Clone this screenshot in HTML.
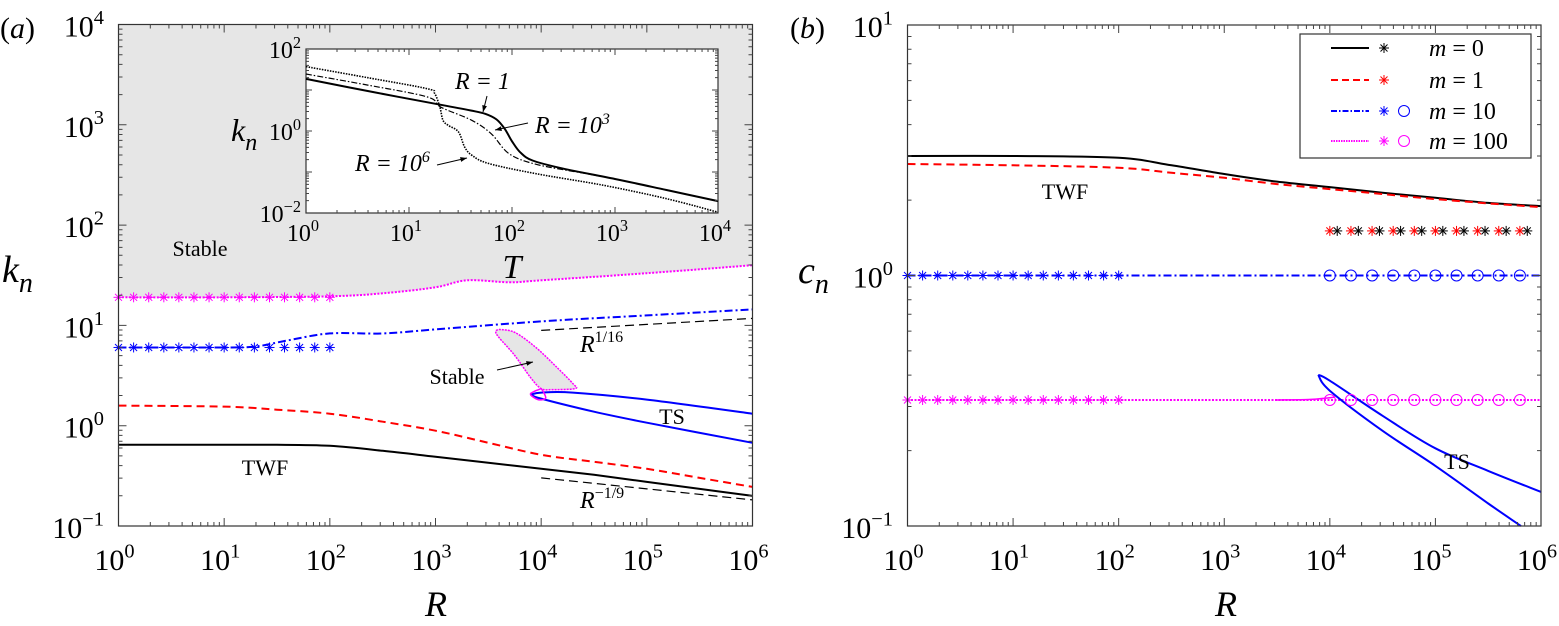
<!DOCTYPE html>
<html><head><meta charset="utf-8"><style>
html,body{margin:0;padding:0;background:#fff;}
svg{display:block;font-family:"Liberation Serif",serif;}
</style></head><body>
<svg id="fig" width="1559" height="626" viewBox="0 0 1559 626" xmlns="http://www.w3.org/2000/svg"></svg>
<script>
// ---------- Panel (a): k_n vs R (log10 values) ----------
const aBlackR = [0,1,1.5,2,2.5,3,3.5,4,4.5,5,5.5,6];
const aBlackK = [-0.19,-0.19,-0.19,-0.2,-0.25,-0.31,-0.37,-0.43,-0.49,-0.56,-0.63,-0.70];
const aRedR = [0,1,1.5,2,2.5,3,3.5,4,4.5,5,5.5,6];
const aRedK = [0.2,0.19,0.16,0.12,0.04,-0.05,-0.17,-0.29,-0.36,-0.43,-0.52,-0.61];
const aBlueR = [0,1,1.3,1.6,2,2.5,3,4,5,6];
const aBlueK = [0.78,0.78,0.79,0.85,0.92,0.92,0.96,1.04,1.10,1.16];
const aMagR = [0,1,2,2.5,3,3.3,3.7,4,5,6];
const aMagK = [1.28,1.28,1.29,1.32,1.38,1.45,1.43,1.45,1.52,1.60];
const aTSUpR = [3.9,4.0,4.3,5,6];
const aTSUpK = [0.31,0.33,0.33,0.26,0.12];
const aTSLoR = [3.9,4.0,4.5,5,6];
const aTSLoK = [0.31,0.27,0.14,0.03,-0.17];
const aLoopR = [3.6,3.75,3.95,4.15,4.3,4.32,4.1,4.0,3.9,3.75,3.6,3.57,3.6];
const aLoopK = [0.96,0.93,0.78,0.58,0.42,0.37,0.36,0.37,0.48,0.7,0.88,0.94,0.96];
const aSmallLoopR = [4.0,3.93,3.9,3.97,4.04,4.03,4.0];
const aSmallLoopK = [0.37,0.34,0.31,0.26,0.27,0.32,0.37];
const aStarR = [0,0.143,0.286,0.429,0.571,0.714,0.857,1,1.143,1.286,1.429,1.571,1.714,1.857,2];
const aStarMagK = 1.28;
const aStarBlueK = 0.78;
const aRef1R = [4,6];
const aRef1K = [0.95,1.07];
const aRef2R = [4,6];
const aRef2K = [-0.52,-0.74];
const aXTicks = ["0","1","2","3","4","5","6"];
const aYTicks = ["-1","0","1","2","3","4"];
// ---------- Inset: k_n vs T ----------
const iSolidT = [0,0.65,1.31,1.6,1.74,1.85,1.93,2.0,2.08,2.2,2.5,3,3.5,4];
const iSolidK = [1.27,0.95,0.64,0.50,0.42,0.28,0.05,-0.25,-0.52,-0.72,-0.92,-1.17,-1.44,-1.71];
const iDashT = [0,0.6,1.18,1.31,1.61,1.80,1.97,2.23,2.72,3,3.5,4];
const iDashK = [1.39,1.12,0.83,0.58,0.26,-0.07,-0.55,-0.81,-1.04,-1.17,-1.44,-1.71];
const iDotT = [0,0.6,1.18,1.25,1.30,1.33,1.38,1.48,1.54,1.61,1.77,2.23,2.88,3.5,4];
const iDotK = [1.57,1.3,1.03,0.91,0.58,0.26,0.14,-0.02,-0.39,-0.59,-0.79,-1.04,-1.32,-1.65,-1.98];
const iXTicks = ["0","1","2","3","4"];
const iYTicks = ["-2","0","2"];
// ---------- Panel (b): c_n vs R ----------
const bBlackR = [0,1,2,2.5,3,3.5,4,4.5,5,5.5,6];
const bBlackC = [0.477,0.477,0.47,0.44,0.405,0.375,0.353,0.33,0.31,0.29,0.277];
const bRedR = [0,1,2,2.5,3,3.5,4,4.5,5,5.5,6];
const bRedC = [0.445,0.44,0.43,0.41,0.39,0.365,0.345,0.325,0.305,0.288,0.273];
const bBlueC = 0.0;
const bMagC = -0.497;
const bTSUpR = [3.89,4,4.5,5,5.5,6];
const bTSUpC = [-0.397,-0.42,-0.56,-0.69,-0.78,-0.864];
const bTSLoR = [3.89,4.0,4.5,5,5.5,5.81];
const bTSLoC = [-0.397,-0.46,-0.62,-0.76,-0.91,-1.0];
const bMagTailR = [3.5,3.8,3.95,4.05];
const bMagTailC = [-0.497,-0.495,-0.49,-0.485];
const bStarR = [0,0.143,0.286,0.429,0.571,0.714,0.857,1,1.143,1.286,1.429,1.571,1.714,1.857,2];
const bCircR = [4,4.2,4.4,4.6,4.8,5.0,5.2,5.4,5.6,5.8];
const bRedStarR = [4,4.2,4.4,4.6,4.8,5.0,5.2,5.4,5.6,5.8];
const bBlackStarR = [4.07,4.27,4.47,4.67,4.87,5.07,5.27,5.47,5.67,5.87];
const bStarRowC = 0.178;
const bYTicks = ["-1","0","1"];

const NS = "http://www.w3.org/2000/svg";
const svg = document.getElementById('fig');
function mk(tag, parent){const e=document.createElementNS(NS,tag);(parent||svg).appendChild(e);return e;}
function setA(e,o){for(const k in o)e.setAttribute(k,o[k]);return e;}

const LX0=118.5,LX1=752.5,LY0=24.5,LY1=526;
const lx=v=>LX0+v*(LX1-LX0)/6, ly=v=>LY1-(v+1)*(LY1-LY0)/5;
const IX0=306,IX1=718,IY0=49,IY1=213;
const ix=v=>IX0+v*(IX1-IX0)/4, iy=v=>IY1-(v+2)*(IY1-IY0)/4;
const RX0=907.5,RX1=1541,RY0=25,RY1=526;
const rx=v=>RX0+v*(RX1-RX0)/6, ry=v=>RY1-(v+1)*(RY1-RY0)/2;

function smooth(xs,ys,fx,fy){
  const p=xs.map((x,i)=>[fx(x),fy(ys[i])]);
  let d='M'+p[0][0].toFixed(1)+','+p[0][1].toFixed(1);
  for(let i=0;i<p.length-1;i++){
    const p0=p[i-1]||p[i],p1=p[i],p2=p[i+1],p3=p[i+2]||p2;
    const c1=[p1[0]+(p2[0]-p0[0])/6,p1[1]+(p2[1]-p0[1])/6];
    const c2=[p2[0]-(p3[0]-p1[0])/6,p2[1]-(p3[1]-p1[1])/6];
    d+=' C'+c1.map(v=>v.toFixed(1))+' '+c2.map(v=>v.toFixed(1))+' '+p2.map(v=>v.toFixed(1));
  }
  return d;
}
function curve(xs,ys,fx,fy,stroke,w,dash,name,fill){
  const e=mk('path');
  setA(e,{d:smooth(xs,ys,fx,fy),fill:fill||'none',stroke:stroke,'stroke-width':w});
  if(dash)e.setAttribute('stroke-dasharray',dash);
  
  
  return e;
}
function star(x,y,c,name){
  const g=mk('g');
  
  
  const r=5;
  [[r,0],[0,r],[r*0.7,r*0.7],[r*0.7,-r*0.7]].forEach(a=>{
    const l=mk('line',g);setA(l,{x1:x-a[0],y1:y-a[1],x2:x+a[0],y2:y+a[1],stroke:c,'stroke-width':1});
  });
}
function circ(x,y,c,name){
  const e=mk('circle');setA(e,{cx:x,cy:y,r:5.5,fill:'none',stroke:c,'stroke-width':1});
  
  
}
function text(x,y,str,size,anchor,name,italic){
  const t=mk('text');setA(t,{x:x,y:y,'font-size':size,'text-anchor':anchor||'start',fill:'#000'});
  if(italic)t.setAttribute('font-style','italic');
  t.innerHTML=str;
  
  
  return t;
}
function pow10(x,y,exp,size,anchor,name){
  return text(x,y,'10<tspan dy="'+(-size*0.42)+'" font-size="'+(size*0.68)+'">'+exp.replace('-','\u2212')+'</tspan>',size,anchor,name);
}
function ticks(x0,x1,y0,y1,nx,ny,fx,fy,len,name){
  const g=mk('g');
  
  
  let d='';
  for(let dd=0;dd<nx;dd++)for(let m=1;m<=9;m++){
    const v=dd+Math.log10(m);const X=fx(v);const L=m===1?len:len/2;
    if(m===1&&dd===0)continue;
    d+=`M${X},${y1}v${-L}M${X},${y0}v${L}`;
  }
  for(let dd=0;dd<ny;dd++)for(let m=1;m<=9;m++){
    const v=dd+Math.log10(m);const Y=fy(v);const L=m===1?len:len/2;
    if(m===1&&dd===0)continue;
    d+=`M${x0},${Y}h${L}M${x1},${Y}h${-L}`;
  }
  const p=mk('path',g);setA(p,{d:d,stroke:'#444','stroke-width':1,fill:'none'});
}

// ===== Panel (a) =====
{
  const e=mk('path');
  const d=smooth(aMagR,aMagK,lx,ly)+` L${LX1},${LY0} L${LX0},${LY0} Z`;
  setA(e,{d:d,fill:'#e6e6e6',stroke:'none'});
  
  
}
curve(aLoopR,aLoopK,lx,ly,'#ff00ff',1.5,'2,1','stable-loop-m100','#e6e6e6');
curve(aBlackR,aBlackK,lx,ly,'#000',2,null,'line-m0');
curve(aRedR,aRedK,lx,ly,'#ff0000',2,'8,5','line-m1');
curve(aBlueR,aBlueK,lx,ly,'#0000ff',2,'8,3,2,3','line-m10');
curve(aMagR,aMagK,lx,ly,'#ff00ff',2,'2,1.5','line-m100');
curve(aTSUpR,aTSUpK,lx,ly,'#0000ff',2,null,'ts-upper-branch');
curve(aTSLoR,aTSLoK,lx,ly,'#0000ff',2,null,'ts-lower-branch');
curve(aSmallLoopR,aSmallLoopK,lx,ly,'#ff00ff',1.5,null,'small-loop-m100');
curve(aRef1R,aRef1K,lx,ly,'#000',1.2,'9,5','ref-r-1-16');
curve(aRef2R,aRef2K,lx,ly,'#000',1.2,'9,5','ref-r-minus-1-9');
aStarR.forEach(r=>{star(lx(r),ly(aStarMagK),'#ff00ff','star-m100');star(lx(r),ly(aStarBlueK),'#0000ff','star-m10');});
{const e=mk('rect');setA(e,{x:LX0,y:LY0,width:LX1-LX0,height:LY1-LY0,fill:'none',stroke:'#333','stroke-width':1.2});
}
ticks(LX0,LX1,LY0,LY1,6,5,lx,v=>ly(v-1),8,'panel-a-ticks');
aXTicks.forEach(s=>pow10(lx(+s)-4,570,s,30,'middle','x-tick-label'));
aYTicks.forEach(s=>pow10(104,ly(+s)+12,s,30,'end','y-tick-label'));
text(436,616,'R',36,'middle','x-axis-title',true);
text(2,282,'k<tspan dy="10" font-size="28">n</tspan>',38,'start','y-axis-title',true);
text(0,38,'(<tspan font-style="italic">a</tspan>)',30,'start','panel-a-label');
text(200,256,'Stable',22,'middle','stable-label');
text(265,475,'TWF',22,'middle','twf-label');
text(672,424,'TS',22,'middle','ts-label');
text(457,384,'Stable',22,'middle','stable-loop-label');
text(580,352,'R<tspan dy="-10" font-size="16" font-style="normal">1/16</tspan>',24,'start','r-1-16-label',true);
text(580,508,'R<tspan dy="-10" font-size="16" font-style="normal">\u22121/9</tspan>',24,'start','r-minus-1-9-label',true);
function arrow(x1,y1,x2,y2,name){
  const g=mk('g');
  const l=mk('line',g);setA(l,{x1:x1,y1:y1,x2:x2,y2:y2,stroke:'#000','stroke-width':1});
  const a=Math.atan2(y2-y1,x2-x1),s=7;
  const p=mk('path',g);setA(p,{d:`M${x2},${y2}L${x2-s*Math.cos(a-0.35)},${y2-s*Math.sin(a-0.35)}L${x2-s*Math.cos(a+0.35)},${y2-s*Math.sin(a+0.35)}Z`,fill:'#000'});
}
arrow(497,370,533,362,'stable-arrow');

// ===== Inset =====
{const e=mk('rect');setA(e,{x:IX0,y:IY0,width:IX1-IX0,height:IY1-IY0,fill:'#fff',stroke:'#333','stroke-width':1.2});
}
curve(iSolidT,iSolidK,ix,iy,'#000',2,null,'inset-r1');
curve(iDashT,iDashK,ix,iy,'#000',1.2,'6,2,1.5,2','inset-r1e3');
curve(iDotT,iDotK,ix,iy,'#000',1.6,'1.5,1.2','inset-r1e6');
{const g=mk('g');
let d='';
for(let dd=0;dd<4;dd++)for(let m=1;m<=9;m++){if(dd===0&&m===1)continue;const X=ix(dd+Math.log10(m));const L=m===1?6:3;d+=`M${X},${IY1}v${-L}M${X},${IY0}v${L}`;}
for(let dd=-2;dd<2;dd++)for(let m=1;m<=9;m++){if(dd===-2&&m===1)continue;const Y=iy(dd+Math.log10(m));const L=m===1?6:3;d+=`M${IX0},${Y}h${L}M${IX1},${Y}h${-L}`;}
const p=mk('path',g);setA(p,{d:d,stroke:'#444','stroke-width':1,fill:'none'});}
iXTicks.forEach(s=>pow10(ix(+s)-3,241,s,24,'middle','inset-x-tick-label'));
iYTicks.forEach(s=>pow10(301,iy(+s)+9,s,24,'end','inset-y-tick-label'));
text(512,278,'T',34,'middle','inset-x-title',true);
text(231,141,'k<tspan dy="9" font-size="24">n</tspan>',32,'start','inset-y-title',true);
text(455,89,'R = 1',24,'start','inset-label-r1',true);
text(535,133,'R = 10<tspan dy="-9" font-size="16">3</tspan>',24,'start','inset-label-r1e3',true);
text(355,171,'R = 10<tspan dy="-9" font-size="16">6</tspan>',24,'start','inset-label-r1e6',true);
arrow(487,96,483,112,'inset-arrow-r1');
arrow(528,123,495,130,'inset-arrow-r1e3');
arrow(437,165,467,158,'inset-arrow-r1e6');

// ===== Panel (b) =====
curve(bBlackR,bBlackC,rx,ry,'#000',2,null,'b-line-m0');
curve(bRedR,bRedC,rx,ry,'#ff0000',2,'8,5','b-line-m1');
{const e=mk('line');setA(e,{x1:rx(0),x2:rx(6),y1:ry(bBlueC),y2:ry(bBlueC),stroke:'#0000ff','stroke-width':2,'stroke-dasharray':'8,3,2,3'});
}
{const e=mk('line');setA(e,{x1:rx(0),x2:rx(6),y1:ry(bMagC),y2:ry(bMagC),stroke:'#ff00ff','stroke-width':2,'stroke-dasharray':'2,1.5'});
}
curve(bMagTailR,bMagTailC,rx,ry,'#ff00ff',1.5,null,'b-ts-m100-tail');
curve(bTSUpR,bTSUpC,rx,ry,'#0000ff',2,null,'b-ts-upper');
curve(bTSLoR,bTSLoC,rx,ry,'#0000ff',2,null,'b-ts-lower');
bStarR.forEach(r=>{star(rx(r),ry(bBlueC),'#0000ff','b-star-m10');star(rx(r),ry(bMagC),'#ff00ff','b-star-m100');});
bCircR.forEach(r=>{circ(rx(r),ry(bBlueC),'#0000ff','b-circle-m10');circ(rx(r),ry(bMagC),'#ff00ff','b-circle-m100');});
bRedStarR.forEach(r=>star(rx(r),ry(bStarRowC),'#ff0000','b-star-m1'));
bBlackStarR.forEach(r=>star(rx(r),ry(bStarRowC),'#000','b-star-m0'));
{const e=mk('rect');setA(e,{x:RX0,y:RY0,width:RX1-RX0,height:RY1-RY0,fill:'none',stroke:'#333','stroke-width':1.2});
}
ticks(RX0,RX1,RY0,RY1,6,2,rx,v=>ry(v-1),8,'panel-b-ticks');
aXTicks.forEach(s=>pow10(rx(+s)-4,570,s,30,'middle','b-x-tick-label'));
bYTicks.forEach(s=>pow10(893,ry(+s)+12,s,30,'end','b-y-tick-label'));
text(1226,616,'R',36,'middle','b-x-axis-title',true);
text(798,283,'c<tspan dy="10" font-size="28">n</tspan>',38,'start','b-y-axis-title',true);
text(790,38,'(<tspan font-style="italic">b</tspan>)',30,'start','panel-b-label');
text(1065,199,'TWF',22,'middle','b-twf-label');
text(1457,469,'TS',22,'middle','b-ts-label');
{const g=mk('g');
const r=mk('rect',g);setA(r,{x:1300,y:34,width:231,height:124,fill:'#fff',stroke:'#333','stroke-width':1.2});}
const legY=[48,80,111,141], legC=['#000','#ff0000','#0000ff','#ff00ff'], legD=[null,'7,4','6,2,1.5,2','1.5,1'], legT=['0','1','10','100'];
legY.forEach((y,i)=>{
  const l=mk('line');setA(l,{x1:1331,x2:1369,y1:y,y2:y,stroke:legC[i],'stroke-width':2});
  if(legD[i])l.setAttribute('stroke-dasharray',legD[i]);
  
  
  star(1384,y,legC[i],'legend-star');
  if(i>=2)circ(1404,y,legC[i],'legend-circle');
  text(1429,y+8,'m<tspan font-style="normal"> = '+legT[i]+'</tspan>',24,'start','legend-entry',true);
});
</script>
</body></html>
